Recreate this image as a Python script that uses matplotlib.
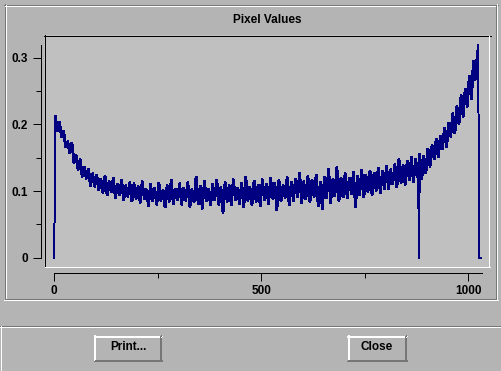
import matplotlib
matplotlib.use("Agg")
import matplotlib.pyplot as plt
from matplotlib.lines import Line2D
import numpy as np

plt.rcParams['font.family'] = ['Liberation Sans', 'DejaVu Sans']

# ---------------- data ----------------
# envelope of the noisy band, one column every 10 samples starting at 5
band_hi = [
    0.212, 0.203, 0.190, 0.174, 0.172, 0.154, 0.147, 0.136, 0.133, 0.126,
    0.124, 0.118, 0.122, 0.114, 0.119, 0.110, 0.116, 0.108, 0.113, 0.111,
    0.107, 0.114, 0.102, 0.110, 0.104, 0.112, 0.101, 0.108, 0.116, 0.103,
    0.111, 0.104, 0.113, 0.102, 0.121, 0.107, 0.114, 0.103, 0.110, 0.116,
    0.105, 0.113, 0.108, 0.117, 0.104, 0.112, 0.121, 0.106, 0.115, 0.109,
    0.117, 0.110, 0.119, 0.112, 0.116, 0.108, 0.120, 0.113, 0.118, 0.127,
    0.114, 0.122, 0.116, 0.124, 0.113, 0.121, 0.133, 0.117, 0.135, 0.119,
    0.126, 0.119, 0.128, 0.122, 0.131, 0.124, 0.130, 0.127, 0.134, 0.129,
    0.137, 0.132, 0.140, 0.147, 0.138, 0.145, 0.150, 0.148, 0.155, 0.152,
    0.163, 0.168, 0.178, 0.182, 0.194, 0.202, 0.216, 0.227, 0.243, 0.253,
    0.272, 0.295,
]
band_lo = [
    0.190, 0.182, 0.166, 0.157, 0.143, 0.132, 0.122, 0.119, 0.108, 0.107,
    0.102, 0.098, 0.094, 0.099, 0.090, 0.094, 0.087, 0.092, 0.085, 0.089,
    0.083, 0.088, 0.078, 0.085, 0.080, 0.086, 0.076, 0.084, 0.081, 0.087,
    0.080, 0.086, 0.077, 0.084, 0.081, 0.074, 0.085, 0.079, 0.087, 0.080,
    0.068, 0.084, 0.079, 0.087, 0.081, 0.076, 0.086, 0.080, 0.084, 0.078,
    0.087, 0.081, 0.089, 0.072, 0.085, 0.090, 0.079, 0.086, 0.091, 0.083,
    0.088, 0.084, 0.092, 0.078, 0.073, 0.090, 0.083, 0.093, 0.086, 0.091,
    0.090, 0.096, 0.077, 0.095, 0.091, 0.099, 0.094, 0.101, 0.097, 0.103,
    0.104, 0.111, 0.106, 0.113, 0.110, 0.117, 0.114, 0.121, 0.118, 0.127,
    0.137, 0.148, 0.151, 0.163, 0.166, 0.182, 0.187, 0.201, 0.212, 0.227,
    0.238, 0.268,
]
head_x = [0, 1, 2]
head_y = [0.0, 0.105, 0.213]
dip_x = [880, 881.5]
dip_y = [0.067, 0.0]
tail_x = [1020, 1024, 1025, 1026, 1030]
tail_y = [0.300, 0.319, 0.160, 0.0, 0.0]

title = "Pixel Values"
x_major = [0, 500, 1000]
x_major_labels = ["0", "500", "1000"]
x_minor = [250, 750]
y_major = [0, 0.1, 0.2, 0.3]
y_major_labels = ["0", "0.1", "0.2", "0.3"]
y_minor = [0.05, 0.15, 0.25]
buttons = ["Print...", "Close"]

# ---------------- assemble series ----------------
col_x = 5 + 10 * np.arange(len(band_hi))
band_x = np.concatenate([col_x - 2.5, col_x + 2.5])
band_y = np.concatenate([band_hi, band_lo])
o = np.argsort(band_x, kind="stable")
band_x, band_y = band_x[o], band_y[o]

xs = np.concatenate([head_x, band_x, dip_x, tail_x])
ys = np.concatenate([head_y, band_y, dip_y, tail_y])
order = np.argsort(xs, kind="stable")
xs, ys = xs[order], ys[order]

# ---------------- figure ----------------
W, H = 502, 371
BG = "#b4b4b4"
PLOT_BG = "#c0c0c0"
DARK = "#767676"
WHITE = "#ffffff"
NAVY = "#000080"
PX = 0.72  # one pixel in points

fig = plt.figure(figsize=(W / 100, H / 100), dpi=100)
fig.patch.set_facecolor(BG)


def fx(x):
    return x / W


def fy(y):
    return 1 - y / H


def hline(x0, x1, y, c):
    fig.add_artist(Line2D([fx(x0), fx(x1)], [fy(y), fy(y)], color=c, lw=PX,
                          transform=fig.transFigure, antialiased=False, zorder=5))


def vline(x, y0, y1, c):
    fig.add_artist(Line2D([fx(x), fx(x)], [fy(y0), fy(y1)], color=c, lw=PX,
                          transform=fig.transFigure, antialiased=False, zorder=5))


# axes = plot area
L, R, T, B = 44, 490, 35, 267
ax = fig.add_axes([fx(L), fy(B), (R - L) / W, (B - T) / H])
ax.set_facecolor(PLOT_BG)

x0px, xscale = 54.3, 0.414
y0px, yscale = 257.7, 666.67
ax.set_xlim((L - x0px) / xscale, (R - x0px) / xscale)
ax.set_ylim((y0px - B) / yscale, (y0px - T) / yscale)

# full trace (thin) and the dense noisy band (drawn heavier so it reads solid)
ax.plot(xs, ys, color=NAVY, lw=PX, antialiased=False)
ax.plot(band_x, band_y, color=NAVY, lw=1.9 * PX, antialiased=False)

for s in ["top", "right"]:
    ax.spines[s].set_visible(False)
ax.spines["left"].set_position(("outward", 3.3 * PX))
ax.spines["left"].set_bounds(0, 0.319)
ax.spines["bottom"].set_position(("outward", 6.0 * PX))
ax.spines["bottom"].set_bounds(0, 1032)
for s in ["left", "bottom"]:
    ax.spines[s].set_linewidth(PX)
    ax.spines[s].set_color("black")
    ax.spines[s].set_antialiased(False)

ax.set_xticks(x_major)
ax.set_xticklabels(x_major_labels)
ax.set_xticks(x_minor, minor=True)
ax.set_yticks(y_major)
ax.set_yticklabels(y_major_labels)
ax.set_yticks(y_minor, minor=True)
ax.tick_params(which="major", length=8 * PX, width=PX, color="black")
ax.tick_params(which="minor", length=5 * PX, width=PX, color="black")
ax.tick_params(axis="x", which="major", pad=2.6, labelsize=8.5)
ax.tick_params(axis="y", which="major", pad=3.4, labelsize=8.5)
for lab in ax.get_xticklabels() + ax.get_yticklabels():
    lab.set_fontweight("bold")

# sunken frame of plot area
hline(44, 491, 35.5, "black")
vline(44.5, 35, 267, "black")
hline(45, 490, 266.5, WHITE)
vline(489.5, 36, 267, WHITE)

# outer groove panel
hline(4, 498, 4.5, DARK)
vline(4.5, 4, 300, DARK)
hline(5, 497, 5.5, WHITE)
vline(5.5, 5, 299, WHITE)
hline(5, 497, 298.5, DARK)
vline(496.5, 5, 299, DARK)
hline(4, 498, 299.5, WHITE)
vline(497.5, 4, 300, WHITE)

fig.text(fx(267), fy(20), title, ha="center", va="center",
         fontsize=8.5, fontweight="bold")

# bottom button panel
hline(0, 502, 325.5, DARK)
hline(0, 502, 326.5, WHITE)
vline(0.5, 326, 371, WHITE)

# buttons
for label, (bx0, bx1) in zip(buttons, [(94, 162), (347, 407)]):
    by0, by1 = 335, 361
    for k in range(2):
        hline(bx0, bx1 - k, by0 + 0.5 + k, WHITE)
        vline(bx0 + 0.5 + k, by0, by1 - k, WHITE)
        hline(bx0 + k, bx1, by1 - 0.5 - k, DARK)
        vline(bx1 - 0.5 - k, by0 + k, by1, DARK)
    fig.text(fx((bx0 + bx1) / 2), fy(347.5), label, ha="center", va="center",
             fontsize=8.5, fontweight="bold")

fig.savefig("out.png", dpi=100, facecolor=fig.get_facecolor())
